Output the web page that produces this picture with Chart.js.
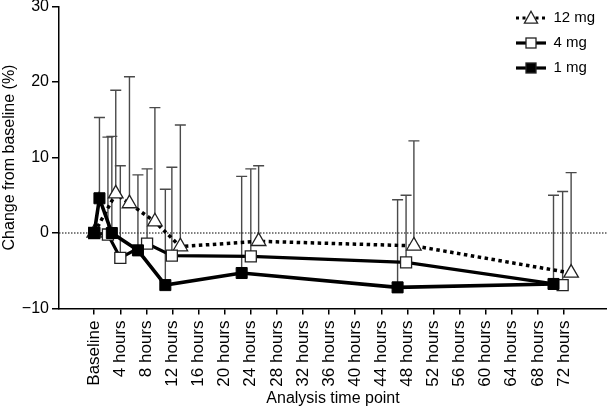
<!DOCTYPE html>
<html>
<head>
<meta charset="utf-8">
<script src="https://cdn.jsdelivr.net/npm/chart.js@4.4.1/dist/chart.umd.min.js"></script>
<style>
  html, body { margin: 0; padding: 0; background: #fff; }
  #wrap { width: 607px; height: 415px; position: relative; }
</style>
</head>
<body>
<div id="wrap"><canvas id="c"></canvas></div>
<script>
// ---- Data ----
const seriesNames = ['1 mg', '4 mg', '12 mg'];
const tickHours = [0, 4, 8, 12, 16, 20, 24, 28, 32, 36, 40, 44, 48, 52, 56, 60, 64, 68, 72];
const tickLabels = ['Baseline', '4 hours', '8 hours', '12 hours', '16 hours', '20 hours', '24 hours',
  '28 hours', '32 hours', '36 hours', '40 hours', '44 hours', '48 hours', '52 hours', '56 hours',
  '60 hours', '64 hours', '68 hours', '72 hours'];

// x positions (hours, slightly staggered per dose as in the figure)
const x1mg  = [0, 0.8, 2.7, 6.7, 10.9, 22.6, 46.5, 70.4];
const x4mg  = [0, 2.1, 4.0, 8.1, 11.9, 24.0, 47.8, 71.8];
const x12mg = [0, 3.3, 5.4, 9.3, 13.2, 25.2, 49.0, 73.1];

// mean change from baseline (%)
const y1mg  = [0, 4.6, 0.0, -2.3, -6.9, -5.3, -7.2, -6.75];
const y4mg  = [0, -0.2, -3.3, -1.4, -3.0, -3.1, -3.9, -6.9];
const y12mg = [0, 5.2, 3.9, 1.5, -1.8, -1.1, -1.7, -5.3];

// upper error (SD)
const sd1mg  = [0, 10.7, 12.8, 10.0, 12.7, 12.8, 11.6, 11.75];
const sd4mg  = [0, 12.9, 12.2, 9.9, 11.7, 11.6, 8.9, 12.4];
const sd12mg = [0, 13.7, 16.8, 15.1, 16.1, 10.0, 13.9, 13.3];

const FONT = "'Liberation Sans', Arial, Helvetica, sans-serif";

function pts(xs, ys) { return xs.map((x, i) => ({ x: x, y: ys[i] })); }

// legend icons: line sample + marker
function makeIcon(kind) {
  const c = document.createElement('canvas');
  c.width = 30; c.height = 16;
  const g = c.getContext('2d');
  const cy = 8;
  g.strokeStyle = '#000';
  g.lineWidth = 3.2;
  if (kind === 'tri') g.setLineDash([3, 3.5]);
  g.beginPath(); g.moveTo(0, cy); g.lineTo(30, cy); g.stroke();
  g.setLineDash([]);
  if (kind === 'tri') {
    const r = 7.6;
    g.beginPath();
    g.moveTo(15, cy - r * 0.75 - 1);
    g.lineTo(15 + 0.866 * r, cy + r * 0.75 - 0.5);
    g.lineTo(15 - 0.866 * r, cy + r * 0.75 - 0.5);
    g.closePath();
    g.fillStyle = '#fff'; g.fill();
    g.lineWidth = 1.3; g.strokeStyle = '#222'; g.stroke();
  } else {
    const s = 10;
    g.fillStyle = kind === 'black' ? '#000' : '#fff';
    g.fillRect(15 - s / 2, cy - s / 2, s, s);
    g.lineWidth = 1.3; g.strokeStyle = '#222';
    g.strokeRect(15 - s / 2, cy - s / 2, s, s);
  }
  return c;
}
const legendIcons = [makeIcon('black'), makeIcon('white'), makeIcon('tri')];

const zeroLine = {
  id: 'zeroLine',
  beforeDatasetsDraw(chart) {
    const { ctx, chartArea, scales } = chart;
    const y0 = scales.y.getPixelForValue(0);
    ctx.save();
    ctx.strokeStyle = '#000';
    ctx.lineWidth = 1.2;
    ctx.setLineDash([1.5, 1.5]);
    ctx.beginPath();
    ctx.moveTo(chartArea.left, y0);
    ctx.lineTo(chartArea.right, y0);
    ctx.stroke();
    ctx.restore();
  }
};

const errorBars = {
  id: 'errorBars',
  beforeDatasetsDraw(chart) {
    const { ctx, scales } = chart;
    ctx.save();
    ctx.strokeStyle = '#4a4a4a';
    ctx.lineWidth = 1.4;
    chart.data.datasets.forEach((ds, i) => {
      const meta = chart.getDatasetMeta(i);
      ds.errors.forEach((e, j) => {
        if (!e) return;
        const p = meta.data[j];
        const top = scales.y.getPixelForValue(ds.data[j].y + e);
        ctx.beginPath();
        ctx.moveTo(p.x, p.y);
        ctx.lineTo(p.x, top);
        ctx.moveTo(p.x - 5.5, top);
        ctx.lineTo(p.x + 5.5, top);
        ctx.stroke();
      });
    });
    ctx.restore();
  }
};

const legendPlace = {
  id: 'legendPlace',
  afterLayout(chart) {
    const lg = chart.legend;
    if (!lg) return;
    lg.left = chart.chartArea.right - 101;
    lg.right = lg.left + lg.width;
    lg.top = 0.5;
  }
};

new Chart(document.getElementById('c'), {
  type: 'line',
  data: {
    datasets: [
      {
        label: seriesNames[0], data: pts(x1mg, y1mg), errors: sd1mg,
        borderColor: '#000', borderWidth: 3.6, tension: 0,
        pointStyle: 'rect', pointRadius: 7.8, pointBackgroundColor: '#000',
        pointBorderColor: '#000', pointBorderWidth: 1
      },
      {
        label: seriesNames[1], data: pts(x4mg, y4mg), errors: sd4mg,
        borderColor: '#000', borderWidth: 3.2, tension: 0,
        pointStyle: 'rect', pointRadius: 7.8, pointBackgroundColor: '#fff',
        pointBorderColor: '#222', pointBorderWidth: 1.3
      },
      {
        label: seriesNames[2], data: pts(x12mg, y12mg), errors: sd12mg,
        borderColor: '#000', borderWidth: 3.5, borderDash: [3.5, 3.5], tension: 0,
        pointStyle: 'triangle', pointRadius: 8.4, pointBackgroundColor: '#fff',
        pointBorderColor: '#222', pointBorderWidth: 1.3
      }
    ]
  },
  options: {
    responsive: true,
    maintainAspectRatio: false,
    animation: false,
    events: [],
    layout: { autoPadding: false, padding: { top: 6.5, right: 0, bottom: 0, left: 0 } },
    plugins: {
      tooltip: { enabled: false },
      legend: {
        position: 'chartArea',
        align: 'start',
        reverse: true,
        labels: {
          usePointStyle: true,
          pointStyleWidth: 30,
          padding: 10,
          color: '#000',
          font: { family: FONT, size: 15 },
          generateLabels(chart) {
            const items = Chart.defaults.plugins.legend.labels.generateLabels(chart);
            return items.map(it => Object.assign(it, { pointStyle: legendIcons[it.datasetIndex], lineWidth: 0 }));
          }
        }
      }
    },
    scales: {
      x: {
        type: 'linear',
        min: -5.4,
        max: 78.6,
        afterBuildTicks(s) { s.ticks = tickHours.map(v => ({ value: v })); },
        afterFit(s) { s.height = 106.5; s.paddingLeft = 0; s.paddingRight = 0; },
        ticks: {
          autoSkip: false,
          minRotation: 90,
          maxRotation: 90,
          padding: 6,
          color: '#000',
          font: { family: FONT, size: 17 },
          callback: (v, i) => tickLabels[i]
        },
        grid: { drawOnChartArea: false, drawTicks: true, tickLength: 6, color: '#000', lineWidth: 1.5 },
        border: { color: '#000', width: 1.5 },
        title: {
          display: true, text: 'Analysis time point', color: '#000',
          font: { family: FONT, size: 16 }, padding: { top: 0, bottom: 7 }
        }
      },
      y: {
        min: -10,
        max: 30,
        afterFit(s) { s.width = 59; s.paddingTop = 0; s.paddingBottom = 0; },
        ticks: {
          stepSize: 10,
          padding: 3,
          color: '#000',
          font: { family: FONT, size: 16, lineHeight: 0.5 },
          callback: v => (v < 0 ? '\u2212' + Math.abs(v) : String(v))
        },
        grid: { drawOnChartArea: false, drawTicks: true, tickLength: 7, color: '#000', lineWidth: 1.5 },
        border: { color: '#000', width: 1.5 },
        title: {
          display: true, text: 'Change from baseline (%)', color: '#000',
          font: { family: FONT, size: 16 }, padding: { top: 0, bottom: 0 }
        }
      }
    }
  },
  plugins: [zeroLine, errorBars, legendPlace]
});
</script>
</body>
</html>
